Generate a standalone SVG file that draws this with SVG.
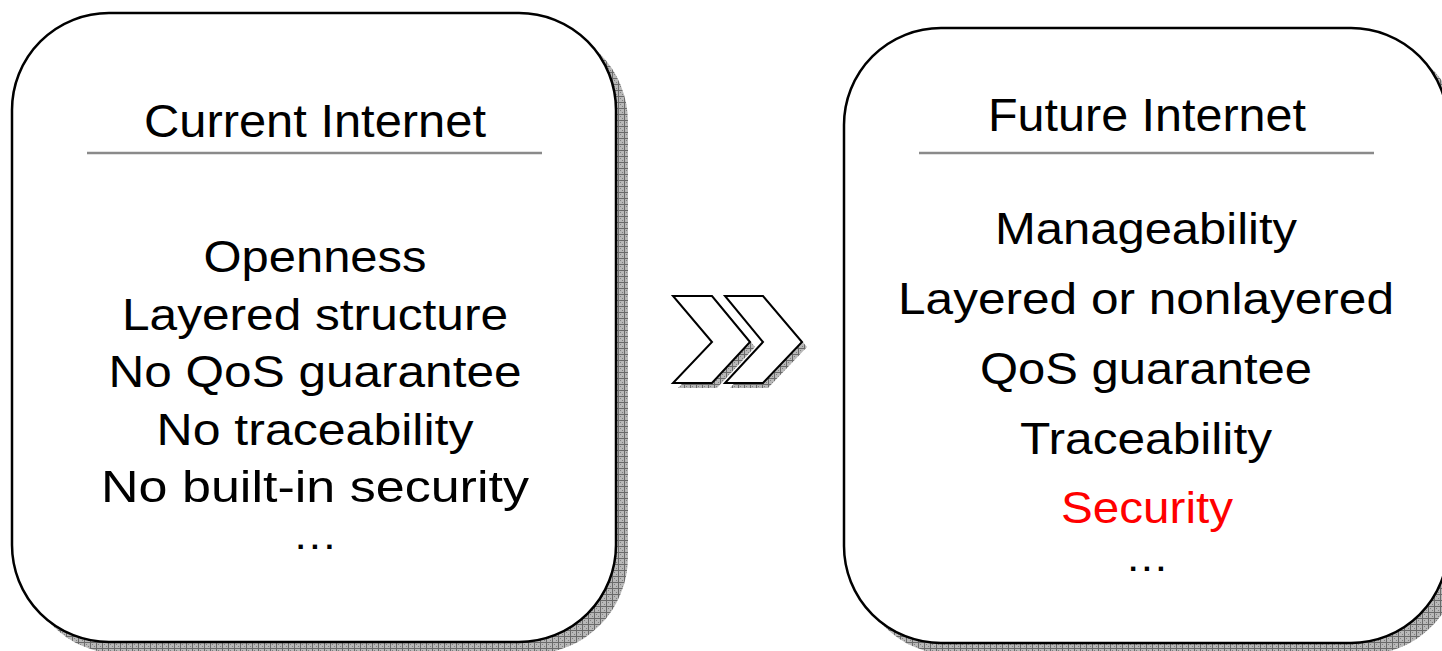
<svg xmlns="http://www.w3.org/2000/svg" width="1442" height="651" viewBox="0 0 1442 651">
  <defs>
    <pattern id="hatch" width="6" height="6" patternUnits="userSpaceOnUse">
      <rect width="6" height="6" fill="#b8b8b8"/>
      <rect x="0" y="0" width="1" height="1" fill="#808080"/>
      <rect x="2" y="2" width="1" height="1" fill="#808080"/>
      <rect x="4" y="4" width="1" height="1" fill="#808080"/>
      <rect x="4" y="0" width="1" height="1" fill="#808080"/>
      <rect x="0" y="4" width="1" height="1" fill="#808080"/>
      <path d="M0 0.5H6M0.5 0V6" stroke="#6a6a6a" stroke-width="1"/>
    </pattern>
  </defs>
  <style>
    .box { fill: #ffffff; stroke: #000000; stroke-width: 2.5; }
    .shadow { fill: url(#hatch); stroke: none; }
    .rule { stroke: #8a8a8a; stroke-width: 2.5; }
    .title { font-family: "Liberation Sans", Arial, sans-serif; font-size: 47px; fill: #000; text-anchor: middle; }
    .item { font-family: "Liberation Sans", Arial, sans-serif; font-size: 45px; fill: #000; text-anchor: middle; }
    .dots { font-family: "Liberation Sans", Arial, sans-serif; font-size: 30px; font-weight: bold; fill: #000; text-anchor: middle; }
    .red { fill: #ff0000; }
    .chev { fill: #ffffff; stroke: #000000; stroke-width: 2; stroke-linejoin: miter; }
  </style>
  <rect width="1442" height="651" fill="#ffffff"/>

  <g id="current-internet">
    <rect class="shadow" x="24" y="25" width="604" height="629" rx="97" ry="97"/>
    <rect class="box" x="12" y="13" width="604" height="629" rx="97" ry="97"/>
    <text class="title" x="315" y="137" textLength="342" lengthAdjust="spacingAndGlyphs">Current Internet</text>
    <line class="rule" x1="87" y1="153" x2="542" y2="153"/>
    <text class="item" x="315" y="272" textLength="223" lengthAdjust="spacingAndGlyphs">Openness</text>
    <text class="item" x="315" y="330" textLength="386" lengthAdjust="spacingAndGlyphs">Layered structure</text>
    <text class="item" x="315" y="387" textLength="413" lengthAdjust="spacingAndGlyphs">No QoS guarantee</text>
    <text class="item" x="315" y="445" textLength="317" lengthAdjust="spacingAndGlyphs">No traceability</text>
    <text class="item" x="315" y="502" textLength="428" lengthAdjust="spacingAndGlyphs">No built-in security</text>
    <text class="dots" x="315" y="549" textLength="37" lengthAdjust="spacing">...</text>
  </g>

  <g id="arrows">
    <polygon class="shadow" points="678,301 717,301 755,347 717,388 678,388 717,347"/>
    <polygon class="shadow" points="730,301 768,301 807,347 768,388 730,388 768,347"/>
    <polygon class="chev" points="673,296 712,296 750,342 712,383 673,383 712,342"/>
    <polygon class="chev" points="725,296 763,296 802,342 763,383 725,383 763,342"/>
  </g>

  <g id="future-internet">
    <rect class="shadow" x="856" y="40" width="604" height="615" rx="97" ry="97"/>
    <rect class="box" x="844" y="28" width="604" height="615" rx="97" ry="97"/>
    <text class="title" x="1147" y="131" textLength="318" lengthAdjust="spacingAndGlyphs">Future Internet</text>
    <line class="rule" x1="919" y1="153" x2="1374" y2="153"/>
    <text class="item" x="1146" y="244" textLength="302" lengthAdjust="spacingAndGlyphs">Manageability</text>
    <text class="item" x="1146" y="314" textLength="496" lengthAdjust="spacingAndGlyphs">Layered or nonlayered</text>
    <text class="item" x="1146" y="384" textLength="332" lengthAdjust="spacingAndGlyphs">QoS guarantee</text>
    <text class="item" x="1146" y="454" textLength="252" lengthAdjust="spacingAndGlyphs">Traceability</text>
    <text class="item red" x="1147" y="523" textLength="172" lengthAdjust="spacingAndGlyphs">Security</text>
    <text class="dots" x="1147" y="571" textLength="36" lengthAdjust="spacing">...</text>
  </g>
</svg>
